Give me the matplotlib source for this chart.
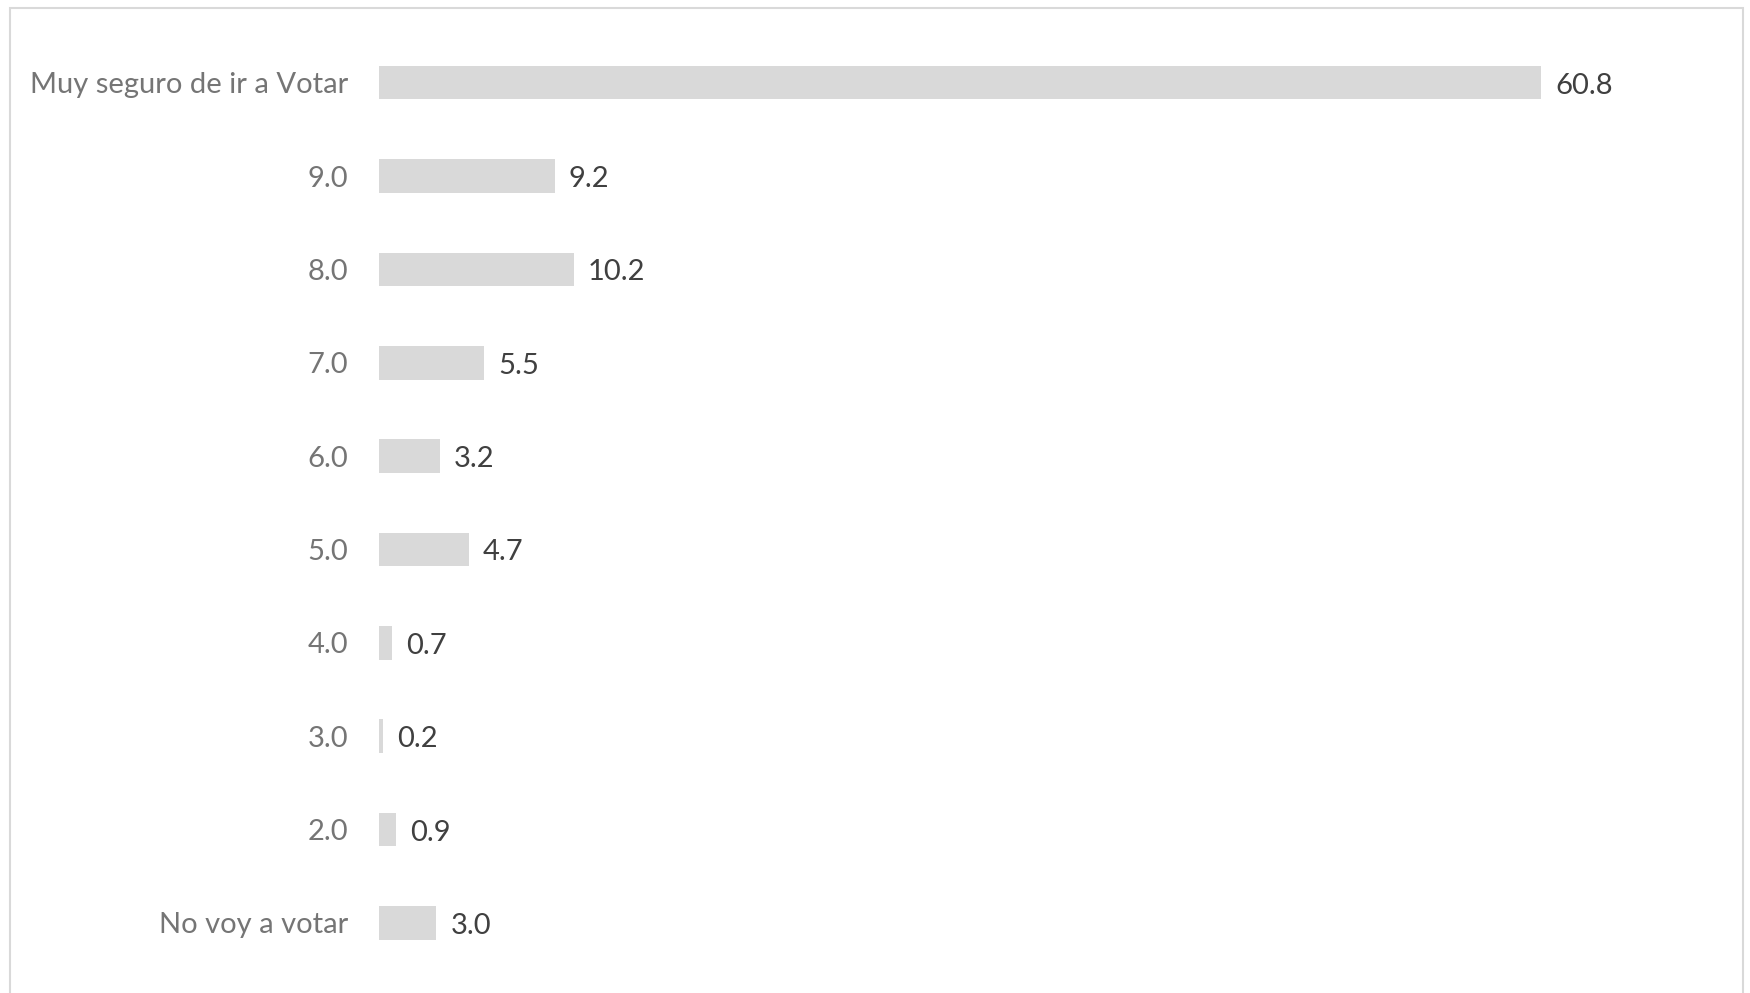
import matplotlib.pyplot as plt
from matplotlib.patches import Rectangle

categories = ["Muy seguro de ir a Votar", "9.0", "8.0", "7.0", "6.0",
              "5.0", "4.0", "3.0", "2.0", "No voy a votar"]
values = [60.8, 9.2, 10.2, 5.5, 3.2, 4.7, 0.7, 0.2, 0.9, 3.0]

plt.rcParams['font.family'] = ['Lato', 'DejaVu Sans']

fig = plt.figure(figsize=(17.5, 9.93), dpi=100)
ax = fig.add_axes([379 / 1750, 0.0235, (1700 - 379) / 1750, 0.9403])

# marco gris alrededor del grafico
fig.patches.append(Rectangle((9.5 / 1750, -0.05), (1743 - 9.5) / 1750, 1.05 - 7.5 / 993,
                             transform=fig.transFigure, fill=False,
                             edgecolor="#d9d9d9", linewidth=1.5))

y = list(range(len(categories)))
ax.barh(y, values, height=0.36, color="#d9d9d9")
for yi, v in zip(y, values):
    ax.annotate(f"{v:.1f}", (v, yi), xytext=(14, -3), textcoords="offset pixels",
                va="center", ha="left", fontsize=21, color="#404040")

ax.set_yticks(y)
ax.set_yticklabels(categories, fontsize=21, color="#757575")
ax.tick_params(axis="y", length=0, pad=22)
ax.set_xticks([])
ax.set_xlim(0, 69.1)
ax.set_ylim(len(categories) - 0.5, -0.5)
for s in ax.spines.values():
    s.set_visible(False)

fig.savefig("out.png", dpi=100)
